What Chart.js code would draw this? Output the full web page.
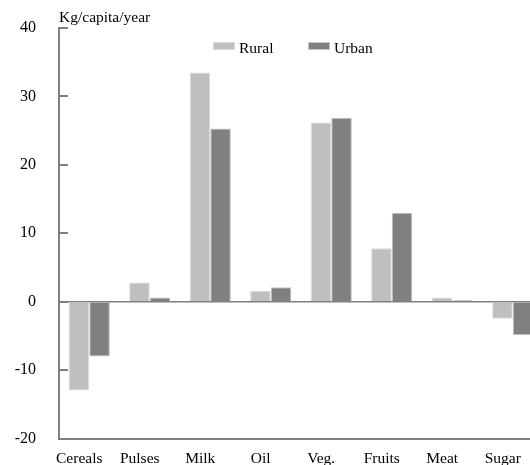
<!DOCTYPE html>
<html>
<head>
<meta charset="utf-8">
<script src="https://cdn.jsdelivr.net/npm/chart.js@4"></script>
<style>
    html, body { margin: 0; padding: 0; background: #fff; overflow: hidden; }
    canvas { display: block; }
</style>
</head>
<body>
<canvas id="chart-food" width="530" height="465"></canvas>
<script>
// Change in consumption, kg/capita/year
const categories = ['Cereals', 'Pulses', 'Milk', 'Oil', 'Veg.', 'Fruits', 'Meat', 'Sugar'];
const ruralValues = [-13.0, 2.8, 33.5, 1.6, 26.2, 7.8, 0.6, -2.5];
const urbanValues = [-8.0, 0.6, 25.3, 2.1, 26.9, 13.0, 0.2, -4.9];
const yTicks = [-20, -10, 0, 10, 20, 30, 40];
const unitLabel = 'Kg/capita/year';

const FONT = 'Liberation Serif, Times New Roman, serif';
const AXIS = '#808080';

// categories sit at x = 0..7; the source picture is cut off part-way through Sugar
const X_MIN = -0.5;
const X_MAX = 7.285;

const toPoints = vals => vals.map((v, i) => ({ x: i, y: v }));

// Inward tick marks on the y axis, unit label and the legend inside the plot
const decorPlugin = {
    id: 'decor',
    afterDraw(chart) {
        const ctx = chart.ctx;
        const y = chart.scales.y;
        const area = chart.chartArea;
        ctx.save();
        ctx.strokeStyle = AXIS;
        ctx.lineWidth = 2;
        yTicks.forEach(v => {
            const py = Math.round(y.getPixelForValue(v));
            ctx.beginPath();
            ctx.moveTo(area.left, py);
            ctx.lineTo(area.left + 9, py);
            ctx.stroke();
        });

        ctx.fillStyle = '#000';
        ctx.font = '15.5px ' + FONT;
        ctx.textBaseline = 'middle';
        ctx.textAlign = 'left';
        ctx.fillText(unitLabel, area.left, 18);

        let lx = 213;
        chart.data.datasets.forEach(ds => {
            ctx.fillStyle = ds.backgroundColor;
            ctx.fillRect(lx, 42, 22, 8);
            ctx.strokeStyle = ds.borderColor;
            ctx.lineWidth = 1;
            ctx.strokeRect(lx + 0.5, 42.5, 21, 7);
            ctx.fillStyle = '#000';
            ctx.fillText(ds.label, lx + 26, 49);
            lx += 95;
        });
        ctx.restore();
    },
};

new Chart(document.getElementById('chart-food'), {
    type: 'bar',
    data: {
        datasets: [
            {
                label: 'Rural',
                data: toPoints(ruralValues),
                backgroundColor: '#bfbfbf',
                borderColor: '#dadada',
                borderWidth: 1,
                categoryPercentage: 0.68,
                barPercentage: 1.0,
            },
            {
                label: 'Urban',
                data: toPoints(urbanValues),
                backgroundColor: '#808080',
                borderColor: '#c4c4c4',
                borderWidth: 1,
                categoryPercentage: 0.68,
                barPercentage: 1.0,
            },
        ],
    },
    options: {
        responsive: false,
        animation: false,
        layout: { padding: { top: 28, right: 0, bottom: 0, left: 0 } },
        plugins: {
            legend: { display: false },
            tooltip: { enabled: false },
        },
        scales: {
            x: {
                type: 'linear',
                offset: false,
                min: X_MIN,
                max: X_MAX,
                grid: { display: false, drawTicks: false },
                border: { display: true, color: AXIS, width: 2 },
                ticks: {
                    stepSize: 1,
                    includeBounds: false,
                    color: '#000',
                    font: { family: FONT, size: 15.5 },
                    padding: 11,
                    labelOffset: -10,
                    maxRotation: 0,
                    autoSkip: false,
                    callback: v => categories[v] ?? '',
                },
                afterFit: s => {
                    s.height = 26.5;
                    s.paddingLeft = 0;
                    s.paddingRight = 0;
                },
            },
            y: {
                min: -20,
                max: 40,
                grid: {
                    drawTicks: false,
                    lineWidth: 1.5,
                    color: c => c.tick && c.tick.value === 0 ? AXIS : 'rgba(0,0,0,0)',
                },
                border: { display: true, color: AXIS, width: 2 },
                ticks: {
                    stepSize: 10,
                    color: '#000',
                    font: { family: FONT, size: 16 },
                    padding: 23,
                },
                afterFit: s => {
                    s.width = 59;
                    s.paddingTop = 0;
                    s.paddingBottom = 0;
                },
            },
        },
    },
    plugins: [decorPlugin],
});
</script>
</body>
</html>
